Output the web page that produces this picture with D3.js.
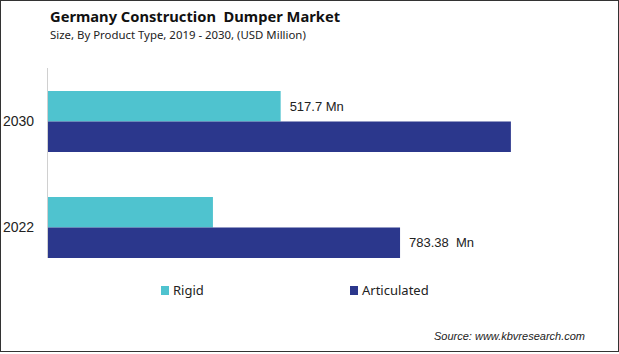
<!DOCTYPE html>
<html>
<head>
<meta charset="utf-8">
<script src="https://cdn.jsdelivr.net/npm/d3@7"></script>
<style>
  body { margin: 0; background: #fff; }
  svg { display: block; font-family: "Liberation Sans", Arial, sans-serif; }
</style>
</head>
<body>
<div id="chart"></div>
<script>
// data
let years = ["2030", "2022"];
let series = ["Rigid", "Articulated"];
let rigidValues = [517.7, 367];
let articulatedValues = [1030, 783.38];
let valueLabels = [["517.7 Mn", null], [null, "783.38  Mn"]]; // [year][series]
let colors = ["#4fc3cf", "#2b378c"];

let width = 619, height = 354;

let svg = d3.select("#chart").append("svg")
    .attr("width", width)
    .attr("height", height);

// border
svg.append("rect")
    .attr("x", 0.5).attr("y", 0.5)
    .attr("width", width - 1).attr("height", height - 3)
    .attr("fill", "none")
    .attr("stroke", "#333")
    .attr("stroke-width", 1);

// title
svg.append("text")
    .attr("x", 50).attr("y", 22)
    .text("Germany Construction\u00a0 Dumper Market")
    .style("font-family", "'Noto Sans', sans-serif")
    .style("font-size", "14.7px")
    .style("font-weight", "bold")
    .attr("fill", "#111");

svg.append("text")
    .attr("x", 50).attr("y", 39)
    .text("Size, By Product Type, 2019 - 2030, (USD Million)")
    .style("font-family", "'Noto Sans', sans-serif")
    .style("font-size", "11.4px")
    .attr("fill", "#222");

// scales
let y = d3.scaleBand()
    .domain(years)
    .range([91, 258])
    .paddingInner(45 / 106)
    .paddingOuter(0);

let ySub = d3.scaleBand()
    .domain(series)
    .range([0, y.bandwidth()]);

let x = d3.scaleLinear()
    .domain([0, 1000])
    .range([48, 48 + 449.4]);

let table = years.map((yr, i) => ({
    year: yr,
    values: [rigidValues[i], articulatedValues[i]]
}));

// axis line
svg.append("line")
    .attr("x1", 47.5).attr("x2", 47.5)
    .attr("y1", 68).attr("y2", 258)
    .attr("stroke", "#d0d0d0");

let groups = svg.selectAll("g.year")
    .data(table)
    .enter()
    .append("g")
    .attr("class", "year")
    .attr("transform", d => "translate(0," + y(d.year) + ")");

groups.selectAll("rect")
    .data(d => d.values.map((v, j) => ({s: series[j], v: v, j: j})))
    .enter()
    .append("rect")
    .attr("x", x(0))
    .attr("y", d => ySub(d.s))
    .attr("width", d => x(d.v) - x(0))
    .attr("height", ySub.bandwidth())
    .attr("fill", d => colors[d.j]);

// value labels
groups.each(function(d, i) {
    let g = d3.select(this);
    d.values.forEach((v, j) => {
        if (valueLabels[i][j]) {
            g.append("text")
                .attr("x", x(v) + 9)
                .attr("y", ySub(series[j]) + ySub.bandwidth() / 2)
                .attr("dy", "0.35em")
                .text(valueLabels[i][j])
                .style("font-size", "13px")
                .attr("fill", "#222")
                .style("white-space", "pre");
        }
    });
});

// year labels
svg.selectAll("text.yearLabel")
    .data(years)
    .enter()
    .append("text")
    .attr("class", "yearLabel")
    .attr("x", 3)
    .attr("y", d => y(d) + y.bandwidth() / 2)
    .attr("dy", "0.35em")
    .text(d => d)
    .style("font-size", "14px")
    .attr("fill", "#222");

// legend
let legendX = [161, 350];
let legend = svg.selectAll("g.legend")
    .data(series)
    .enter()
    .append("g")
    .attr("class", "legend")
    .attr("transform", (d, i) => "translate(" + legendX[i] + ",286)");

legend.append("rect")
    .attr("width", 8).attr("height", 9)
    .attr("fill", (d, i) => colors[i]);

legend.append("text")
    .attr("x", 12)
    .attr("y", 4.5)
    .attr("dy", "0.35em")
    .text(d => d)
    .style("font-family", "'Noto Sans', sans-serif")
    .style("font-size", "13px")
    .attr("fill", "#222");

// source
svg.append("text")
    .attr("x", 585).attr("y", 340)
    .attr("text-anchor", "end")
    .text("Source: www.kbvresearch.com")
    .style("font-size", "11px")
    .style("font-style", "italic")
    .attr("fill", "#222");
</script>
</body>
</html>
